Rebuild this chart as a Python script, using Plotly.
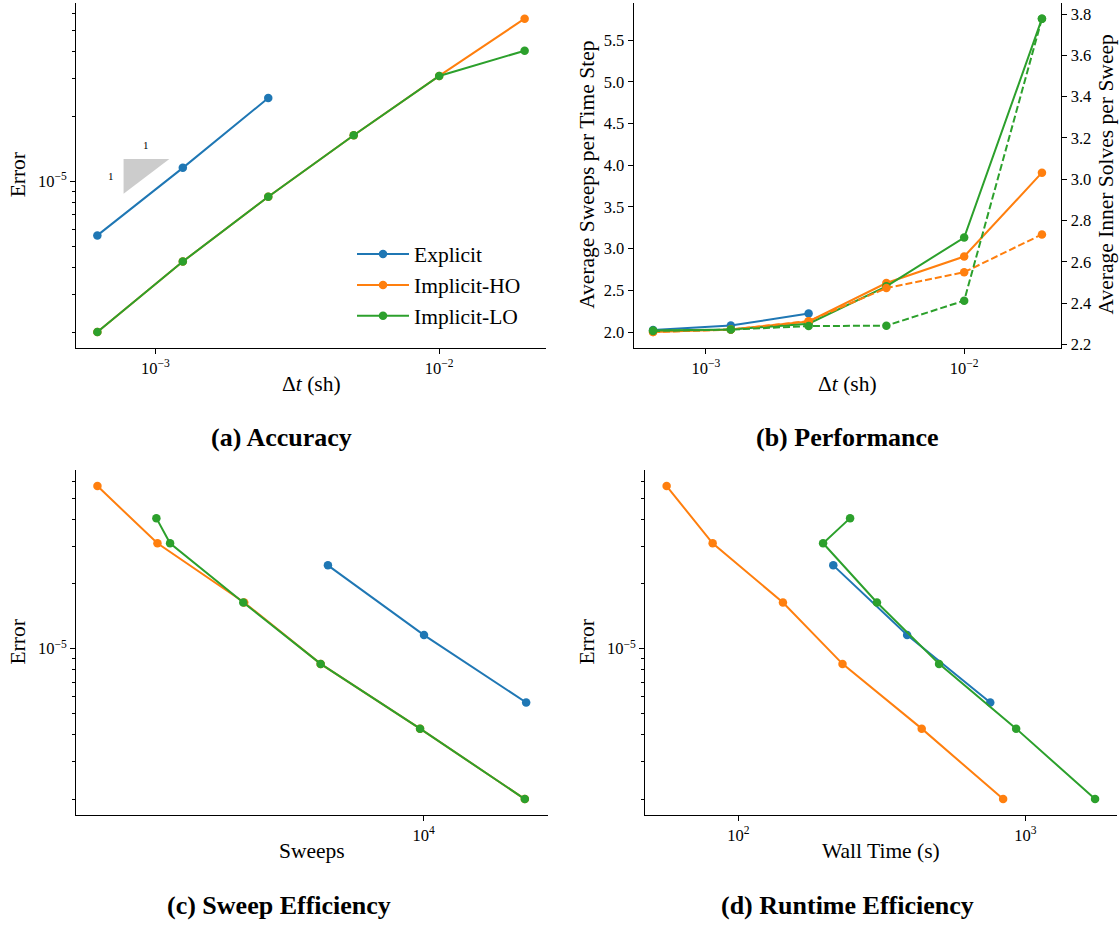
import numpy as np
import plotly.graph_objects as go

W, H = 1120, 930
FONT = "Liberation Serif"

# ---------------- data ----------------
series_names = ["Explicit", "Implicit-HO", "Implicit-LO"]
colors = ["#1f77b4", "#ff7f0e", "#2ca02c"]

dt = [0.000625, 0.00125, 0.0025, 0.005, 0.01, 0.02]
dt_explicit = dt[:3]

err_explicit = [5.62e-6, 1.157e-5, 2.44e-5]
err_ho = [2.0e-6, 4.25e-6, 8.5e-6, 1.64e-5, 3.09e-5, 5.70e-5]
err_lo = [2.0e-6, 4.25e-6, 8.5e-6, 1.64e-5, 3.09e-5, 4.045e-5]

sweeps_per_step_explicit = [2.024, 2.079, 2.222]
sweeps_per_step_ho = [2.0, 2.031, 2.128, 2.588, 2.906, 3.911]
sweeps_per_step_lo = [2.02, 2.03, 2.10, 2.548, 3.134, 5.758]
inner_per_sweep_ho = [2.26, 2.272, 2.313, 2.473, 2.55, 2.733]
inner_per_sweep_lo = [2.265, 2.272, 2.289, 2.291, 2.412, 3.778]

sweeps_explicit = [22900, 10030, 4613]
sweeps_ho = [22650, 9714, 4350, 2345, 1163, 716]
sweeps_lo = [22650, 9714, 4350, 2327, 1288, 1153]

walltime_explicit = [754, 387, 214]
walltime_ho = [836, 435, 230.4, 142.9, 81.3, 56.2]
walltime_lo = [1748, 928, 500, 303.8, 197.2, 244.9]

# tick values / labels
dt_ticks = [1e-3, 1e-2]
dt_ticktext = ["10<sup>\u22123</sup>", "10<sup>\u22122</sup>"]
err_ticks = [1e-5]
err_ticktext = ["10<sup>\u22125</sup>"]
sweeps_ticks = [1e4]
sweeps_ticktext = ["10<sup>4</sup>"]
wall_ticks = [1e2, 1e3]
wall_ticktext = ["10<sup>2</sup>", "10<sup>3</sup>"]
sweeps_step_ticks = [2.0, 2.5, 3.0, 3.5, 4.0, 4.5, 5.0, 5.5]
inner_ticks = [2.2, 2.4, 2.6, 2.8, 3.0, 3.2, 3.4, 3.6, 3.8]

# slope triangle anchor (x left, y top, factor)
tri_x0, tri_ytop, tri_factor = 7.73e-4, 1.272e-5, 1.45

panel_titles = ["(a) Accuracy", "(b) Performance", "(c) Sweep Efficiency", "(d) Runtime Efficiency"]


# ---------------- helpers ----------------
def log_range(vals, m=0.05):
    lo, hi = np.log10(min(vals)), np.log10(max(vals))
    d = (hi - lo) * m
    return [lo - d, hi + d]


def lin_range(vals, m=0.05):
    lo, hi = min(vals), max(vals)
    d = (hi - lo) * m
    return [lo - d, hi + d]


def xdom(l, r):
    return [l / W, r / W]


def ydom(t, b):
    return [1 - b / H, 1 - t / H]


tickfont = dict(family=FONT, size=16.5, color="black")
base_axis = dict(showline=True, linecolor="black", linewidth=1, ticks="outside",
                 ticklen=5, tickwidth=1, tickcolor="black", showgrid=False,
                 zeroline=False, tickfont=tickfont)
# unlabeled minor ticks at 2..9 of every decade
minor_err = dict(ticks="outside", dtick="D1", ticklen=3.5, tickwidth=1,
                 tickcolor="black", showgrid=False)

fig = go.Figure()

line_w = 2
msize = 8.5


def add(x, y, name, color, xa, ya, showlegend=False, dash=None):
    fig.add_trace(go.Scatter(
        x=x, y=y, name=name, mode="lines+markers",
        line=dict(color=color, width=line_w, dash=dash),
        marker=dict(color=color, size=msize),
        xaxis=xa, yaxis=ya, showlegend=showlegend, legendgroup=name))


# slope triangle (panel a)
tri_x1 = tri_x0 * tri_factor
tri_ybot = tri_ytop / tri_factor
fig.add_trace(go.Scatter(
    x=[tri_x0, tri_x1, tri_x0, tri_x0], y=[tri_ytop, tri_ytop, tri_ybot, tri_ytop],
    mode="lines", fill="toself", fillcolor="#cccccc", line=dict(width=0, color="#cccccc"),
    xaxis="x", yaxis="y", showlegend=False, hoverinfo="skip"))

# (a) accuracy
add(dt_explicit, err_explicit, series_names[0], colors[0], "x", "y", True)
add(dt, err_ho, series_names[1], colors[1], "x", "y", True)
add(dt, err_lo, series_names[2], colors[2], "x", "y", True)

# (b) performance
add(dt_explicit, sweeps_per_step_explicit, series_names[0], colors[0], "x2", "y2")
add(dt, sweeps_per_step_ho, series_names[1], colors[1], "x2", "y2")
add(dt, sweeps_per_step_lo, series_names[2], colors[2], "x2", "y2")
add(dt, inner_per_sweep_ho, series_names[1], colors[1], "x2", "y5", dash="7px,3px")
add(dt, inner_per_sweep_lo, series_names[2], colors[2], "x2", "y5", dash="7px,3px")

# (c) sweep efficiency
add(sweeps_explicit, err_explicit, series_names[0], colors[0], "x3", "y3")
add(sweeps_ho, err_ho, series_names[1], colors[1], "x3", "y3")
add(sweeps_lo, err_lo, series_names[2], colors[2], "x3", "y3")

# (d) runtime efficiency
add(walltime_explicit, err_explicit, series_names[0], colors[0], "x4", "y4")
add(walltime_ho, err_ho, series_names[1], colors[1], "x4", "y4")
add(walltime_lo, err_lo, series_names[2], colors[2], "x4", "y4")

all_err = err_explicit + err_ho + err_lo
err_range = log_range(all_err)
dt_range = log_range(dt)

layout = dict(
    width=W, height=H, margin=dict(l=0, r=0, t=0, b=0),
    paper_bgcolor="white", plot_bgcolor="white",
    font=dict(family=FONT, color="black"),
    xaxis=dict(base_axis, type="log", domain=xdom(76, 546), range=dt_range,
               tickmode="array", tickvals=dt_ticks, ticktext=dt_ticktext, anchor="y"),
    yaxis=dict(base_axis, type="log", domain=ydom(3, 350), range=err_range,
               tickmode="array", tickvals=err_ticks, ticktext=err_ticktext,
               minor=minor_err, anchor="x"),
    xaxis2=dict(base_axis, type="log", domain=xdom(633.6, 1061.4), range=dt_range,
                tickmode="array", tickvals=dt_ticks, ticktext=dt_ticktext, anchor="y2"),
    yaxis2=dict(base_axis, domain=ydom(3, 350),
                range=lin_range(sweeps_per_step_explicit + sweeps_per_step_ho + sweeps_per_step_lo),
                tickmode="array", tickvals=sweeps_step_ticks,
                ticktext=[f"{v:.1f}" for v in sweeps_step_ticks], anchor="x2"),
    yaxis5=dict(base_axis, overlaying="y2", side="right", anchor="x2",
                range=lin_range(inner_per_sweep_ho + inner_per_sweep_lo),
                tickmode="array", tickvals=inner_ticks,
                ticktext=[f"{v:.1f}" for v in inner_ticks]),
    xaxis3=dict(base_axis, type="log", domain=xdom(76, 547.6),
                range=log_range(sweeps_explicit + sweeps_ho + sweeps_lo),
                tickmode="array", tickvals=sweeps_ticks, ticktext=sweeps_ticktext, anchor="y3"),
    yaxis3=dict(base_axis, type="log", domain=ydom(473.5, 820), range=err_range,
                tickmode="array", tickvals=err_ticks, ticktext=err_ticktext,
                minor=minor_err, anchor="x3"),
    xaxis4=dict(base_axis, type="log", domain=xdom(645.2, 1116.5),
                range=log_range(walltime_explicit + walltime_ho + walltime_lo),
                tickmode="array", tickvals=wall_ticks, ticktext=wall_ticktext, anchor="y4"),
    yaxis4=dict(base_axis, type="log", domain=ydom(473.5, 820), range=err_range,
                tickmode="array", tickvals=err_ticks, ticktext=err_ticktext,
                minor=minor_err, anchor="x4"),
    legend=dict(x=352 / W, y=1 - 235 / H, xanchor="left", yanchor="top",
                font=dict(family=FONT, size=21.5, color="black"),
                bgcolor="rgba(0,0,0,0)", borderwidth=0, itemwidth=52,
                tracegroupgap=0),
    showlegend=True,
)
fig.update_layout(**layout)

ann = []


def paper_text(text, px, py, size, angle=0, bold=False):
    ann.append(dict(text=f"<b>{text}</b>" if bold else text, x=px / W, y=1 - py / H,
                    xref="paper", yref="paper", showarrow=False, textangle=angle,
                    xanchor="center", yanchor="middle",
                    font=dict(family=FONT, size=size, color="black")))


label_size = 21.5
paper_text("Error", 18, 176.5, label_size, -90)
paper_text("\u0394<i>t</i> (sh)", 311, 386.7, label_size)
paper_text("Average Sweeps per Time Step", 587, 176, label_size, -90)
paper_text("Average Inner Solves per Sweep", 1105.6, 176, label_size, -90)
paper_text("\u0394<i>t</i> (sh)", 847.5, 386.7, label_size)
paper_text("Error", 18, 646.7, label_size, -90)
paper_text("Sweeps", 312, 856.7, label_size)
paper_text("Error", 587, 646.7, label_size, -90)
paper_text("Wall Time (s)", 881, 856.7, label_size)

paper_text(panel_titles[0], 281, 440, 26, bold=True)
paper_text(panel_titles[1], 847, 440, 26, bold=True)
paper_text(panel_titles[2], 279, 911, 26, bold=True)
paper_text(panel_titles[3], 847, 911, 26, bold=True)

# slope triangle labels
tri_xmid = 10 ** ((np.log10(tri_x0) + np.log10(tri_x1)) / 2)
tri_ymid = 10 ** ((np.log10(tri_ytop) + np.log10(tri_ybot)) / 2)
ann.append(dict(text="1", x=np.log10(tri_xmid), y=np.log10(tri_ytop), xref="x", yref="y",
                showarrow=False, yshift=14, font=dict(family=FONT, size=11, color="black")))
ann.append(dict(text="1", x=np.log10(tri_x0), y=np.log10(tri_ymid), xref="x", yref="y",
                showarrow=False, xshift=-13, font=dict(family=FONT, size=11, color="black")))

fig.update_layout(annotations=ann)

fig.write_html("out.html", config={"displayModeBar": False},
               post_script="document.body.style.margin='0';")
